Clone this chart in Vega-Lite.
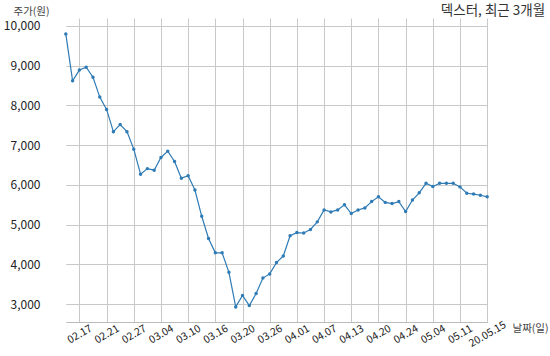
{
  "$schema": "https://vega.github.io/schema/vega-lite/v6.json",
  "width": 469,
  "height": 304,
  "autosize": {"type": "none"},
  "padding": {"left": 42, "top": 18, "right": 39, "bottom": 34},
  "background": "white",
  "config": {
    "view": {"stroke": null},
    "font": "Noto Sans CJK KR"
  },
  "title": {
    "text": "덱스터, 최근 3개월",
    "anchor": "end",
    "fontSize": 13.5,
    "fontWeight": "normal",
    "color": "#333333",
    "offset": 3,
    "dx": -3,
    "dy": 14,
    "font": "Noto Sans CJK KR"
  },
  "data": {
    "values": [
      {"date": "02.13", "price": 9800},
      {"date": "02.14", "price": 8620},
      {"date": "02.17", "price": 8890},
      {"date": "02.18", "price": 8960},
      {"date": "02.19", "price": 8710},
      {"date": "02.20", "price": 8210},
      {"date": "02.21", "price": 7900},
      {"date": "02.24", "price": 7340},
      {"date": "02.25", "price": 7520},
      {"date": "02.26", "price": 7340},
      {"date": "02.27", "price": 6900},
      {"date": "02.28", "price": 6270},
      {"date": "03.02", "price": 6410},
      {"date": "03.03", "price": 6370},
      {"date": "03.04", "price": 6690},
      {"date": "03.05", "price": 6850},
      {"date": "03.06", "price": 6590},
      {"date": "03.09", "price": 6170},
      {"date": "03.10", "price": 6230},
      {"date": "03.11", "price": 5870},
      {"date": "03.12", "price": 5210},
      {"date": "03.13", "price": 4650},
      {"date": "03.16", "price": 4290},
      {"date": "03.17", "price": 4290},
      {"date": "03.18", "price": 3800},
      {"date": "03.19", "price": 2930},
      {"date": "03.20", "price": 3220},
      {"date": "03.23", "price": 2965},
      {"date": "03.24", "price": 3265},
      {"date": "03.25", "price": 3655},
      {"date": "03.26", "price": 3760},
      {"date": "03.27", "price": 4045},
      {"date": "03.30", "price": 4210},
      {"date": "03.31", "price": 4720},
      {"date": "04.01", "price": 4800},
      {"date": "04.02", "price": 4790},
      {"date": "04.03", "price": 4880},
      {"date": "04.06", "price": 5070},
      {"date": "04.07", "price": 5370},
      {"date": "04.08", "price": 5320},
      {"date": "04.09", "price": 5370},
      {"date": "04.10", "price": 5500},
      {"date": "04.13", "price": 5280},
      {"date": "04.14", "price": 5370},
      {"date": "04.16", "price": 5420},
      {"date": "04.17", "price": 5580},
      {"date": "04.20", "price": 5700},
      {"date": "04.21", "price": 5560},
      {"date": "04.22", "price": 5530},
      {"date": "04.23", "price": 5580},
      {"date": "04.24", "price": 5330},
      {"date": "04.27", "price": 5620},
      {"date": "04.28", "price": 5800},
      {"date": "04.29", "price": 6040},
      {"date": "05.04", "price": 5960},
      {"date": "05.06", "price": 6040},
      {"date": "05.07", "price": 6040},
      {"date": "05.08", "price": 6040},
      {"date": "05.11", "price": 5950},
      {"date": "05.12", "price": 5790},
      {"date": "05.13", "price": 5770},
      {"date": "05.14", "price": 5740},
      {"date": "20.05.15", "price": 5700}
    ]
  },
  "mark": {
    "type": "line",
    "color": "#2f7bb5",
    "strokeWidth": 1.2,
    "point": {"filled": true, "size": 12, "color": "#2f7bb5"}
  },
  "encoding": {
    "x": {
      "field": "date",
      "type": "ordinal",
      "sort": null,
      "scale": {"type": "point", "padding": 0, "range": [23.8, 445.2]},
      "axis": {
        "values": ["02.17", "02.21", "02.27", "03.04", "03.10", "03.16", "03.20", "03.26", "04.01", "04.07", "04.13", "04.20", "04.24", "05.04", "05.11", "20.05.15"],
        "labelAngle": -30,
        "labelAlign": "center",
        "labelBaseline": "middle",
        "labelPadding": 12,
        "labelFontSize": 10.5,
        "labelColor": "#222222",
        "ticks": false,
        "grid": true,
        "gridColor": "#c8c8c8",
        "gridWidth": 1,
        "domainColor": "#bbbbbb",
        "title": "날짜(일)",
        "titleFontSize": 10.5,
        "titleFontWeight": "normal",
        "titleColor": "#444444",
        "titleAlign": "left",
        "titleBaseline": "middle",
        "titleAnchor": "start",
        "titleX": 470,
        "titleY": 6
      }
    },
    "y": {
      "field": "price",
      "type": "quantitative",
      "scale": {"domain": [2550, 10200], "nice": false, "zero": false},
      "axis": {
        "values": [3000, 4000, 5000, 6000, 7000, 8000, 9000, 10000],
        "format": ",.0f",
        "labelFontSize": 12,
        "labelColor": "#222222",
        "labelPadding": 2,
        "ticks": false,
        "domain": false,
        "grid": true,
        "gridColor": "#c8c8c8",
        "gridWidth": 1,
        "title": "주가(원)",
        "titleAngle": 0,
        "titleFontSize": 10.5,
        "titleFontWeight": "normal",
        "titleColor": "#444444",
        "titleAlign": "left",
        "titleBaseline": "alphabetic",
        "titleX": -29,
        "titleY": -4
      }
    }
  }
}
